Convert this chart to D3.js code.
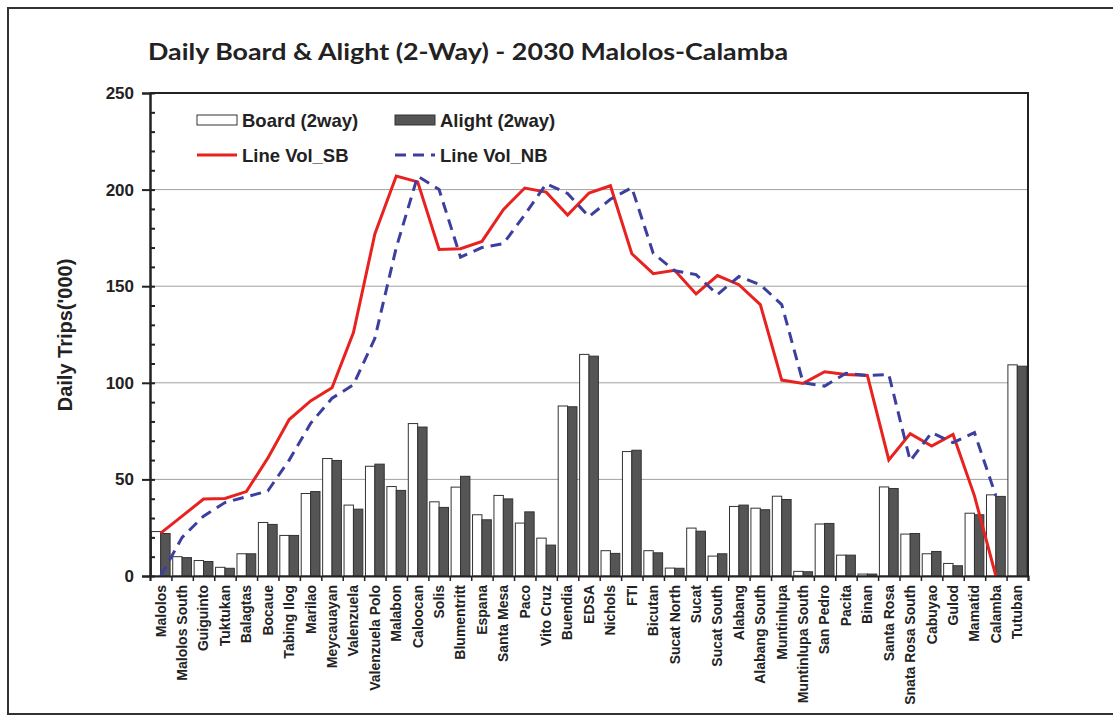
<!DOCTYPE html>
<html>
<head>
<meta charset="utf-8">
<script src="https://cdn.jsdelivr.net/npm/d3@7"></script>
<style>
  body { margin: 0; background: #fff; }
  svg { display: block; font-family: Arial, "Liberation Sans", sans-serif; }
</style>
</head>
<body>
<div id="chart"></div>
<script>
const stations = ["Malolos", "Malolos South", "Guiguinto", "Tuktukan", "Balagtas", "Bocaue", "Tabing Ilog",
    "Marilao", "Meycauayan", "Valenzuela", "Valenzuela Polo", "Malabon", "Caloocan", "Solis", "Blumentritt",
    "Espana", "Santa Mesa", "Paco", "Vito Cruz", "Buendia", "EDSA", "Nichols", "FTI", "Bicutan", "Sucat North",
    "Sucat", "Sucat South", "Alabang", "Alabang South", "Muntinlupa", "Muntinlupa South", "San Pedro", "Pacita",
    "Binan", "Santa Rosa", "Snata Rosa South", "Cabuyao", "Gulod", "Mamatid", "Calamba", "Tutuban"];

const board = [23, 10, 8, 4.5, 11.5, 27.7, 21, 42.7, 60.8, 36.7, 56.8, 46.3, 78.9, 38.4, 46, 31.7, 41.7, 27.4,
    19.6, 88, 114.7, 13.1, 64.4, 13.1, 4.1, 24.8, 10.3, 36, 35.1, 41.3, 2.4, 26.9, 10.8, 1, 46.1, 21.7, 11.5,
    6.5, 32.5, 42, 109.3];
const alight = [22, 9.5, 7.5, 4, 11.5, 26.7, 21, 43.7, 59.8, 34.6, 57.9, 44.3, 77.1, 35.5, 51.6, 29.1, 39.9,
    33.2, 16, 87.6, 113.8, 11.7, 65.1, 12, 4, 23.2, 11.5, 36.7, 34.3, 39.6, 2.2, 27.2, 10.8, 1, 45.3, 22, 12.7,
    5.3, 31.7, 41.2, 108.6];
const volSB = [22.2, 31, 39.8, 40.1, 43.7, 61, 81, 90.6, 97.4, 126, 177, 207, 204, 169, 169.4, 173.2, 189.6,
    200.8, 198.7, 186.8, 198.2, 202, 166.8, 156.5, 158.2, 146, 155.5, 150.8, 140.5, 101.4, 99.7, 105.7, 104.3,
    103.8, 60.1, 73.7, 67.3, 73.3, 41.5, 0, null];
const volNB = [0, 20, 31, 38, 41, 44, 60, 79, 92, 99, 123, 170, 207, 200, 165, 170, 172, 187, 203, 198, 186,
    195, 201, 167, 158, 156, 145.7, 155, 150.8, 140.5, 100, 98.3, 104.9, 103.8, 104.3, 59.6, 74.2, 69, 74.2,
    41.5, null];
const yTicks = [0, 50, 100, 150, 200, 250];

const W = 1113, H = 722;
const margin = {left: 150, right: 85, top: 93, bottom: 146};
const innerW = W - margin.left - margin.right;
const innerH = H - margin.top - margin.bottom;

const svg = d3.select("#chart").append("svg")
    .attr("width", W)
    .attr("height", H);

// outer frame
svg.append("rect")
    .attr("x", 8).attr("y", 8)
    .attr("width", W + 10).attr("height", 706)
    .attr("fill", "none")
    .attr("stroke", "#333")
    .attr("stroke-width", 2);

svg.append("text")
    .attr("x", 148).attr("y", 60)
    .attr("textLength", 640)
    .attr("lengthAdjust", "spacingAndGlyphs")
    .style("font-family", "Lato, 'Open Sans', sans-serif")
    .style("font-weight", "700")
    .style("font-size", "23px")
    .attr("fill", "#222")
    .text("Daily Board & Alight (2-Way) - 2030 Malolos-Calamba");

const g = svg.append("g").attr("transform", `translate(${margin.left},${margin.top})`);

const x = d3.scaleBand().domain(stations).range([0, innerW]);
const xSub = d3.scaleBand().domain(["board", "alight"]).range([0, x.bandwidth()]).paddingOuter(0.14);
const xIdx = d3.scaleLinear().domain([0, stations.length]).range([0, innerW]);
const y = d3.scaleLinear().domain([0, 250]).range([innerH, 0]);

// gridlines
g.append("g")
    .selectAll("line")
    .data(yTicks.slice(1, -1))
    .join("line")
    .attr("x1", 0).attr("x2", innerW)
    .attr("y1", d => y(d)).attr("y2", d => y(d))
    .attr("stroke", "#a0a0a0")
    .attr("stroke-width", 1);

// bars
const rows = stations.map((s, i) => ({name: s, board: board[i], alight: alight[i]}));
const grp = g.append("g").selectAll("g")
    .data(rows)
    .join("g")
    .attr("transform", d => `translate(${x(d.name)},0)`);

grp.append("rect")
    .attr("x", xSub("board"))
    .attr("y", d => y(d.board))
    .attr("width", xSub.bandwidth())
    .attr("height", d => innerH - y(d.board))
    .attr("fill", "#fff")
    .attr("stroke", "#333")
    .attr("stroke-width", 1);

grp.append("rect")
    .attr("x", xSub("alight"))
    .attr("y", d => y(d.alight))
    .attr("width", xSub.bandwidth())
    .attr("height", d => innerH - y(d.alight))
    .attr("fill", "#555")
    .attr("stroke", "#333")
    .attr("stroke-width", 1);

// lines
const line = d3.line()
    .defined(d => d != null)
    .x((d, i) => x(stations[i]) + x.bandwidth() / 2)
    .y(d => y(d));

g.append("path")
    .datum(volSB)
    .attr("d", line)
    .attr("fill", "none")
    .attr("stroke", "#e8221f")
    .attr("stroke-width", 3);

g.append("path")
    .datum(volNB)
    .attr("d", line)
    .attr("fill", "none")
    .attr("stroke", "#3c3f9e")
    .attr("stroke-width", 3)
    .attr("stroke-dasharray", "11,7");

// plot frame (top and right)
g.append("path")
    .attr("d", `M0,0H${innerW}V${innerH}`)
    .attr("fill", "none")
    .attr("stroke", "#222")
    .attr("stroke-width", 2);

// y axis
const yAxis = g.append("g")
    .call(d3.axisLeft(y).tickValues(yTicks).tickSize(8).tickPadding(8));
yAxis.selectAll("text")
    .style("font-size", "17px")
    .style("font-weight", "bold")
    .attr("fill", "#222");
g.append("g")
    .call(d3.axisLeft(y).tickValues(d3.range(0, 251, 10)).tickSizeInner(-5).tickSizeOuter(0).tickFormat(""));
g.selectAll(".domain").attr("stroke", "#222").attr("stroke-width", 2);
g.selectAll(".tick line").attr("stroke", "#222").attr("stroke-width", 2);

// x axis
g.append("g")
    .attr("transform", `translate(0,${innerH})`)
    .call(d3.axisBottom(xIdx).tickValues(d3.range(0, stations.length + 1)).tickSize(5).tickFormat(""))
    .call(a => a.select(".domain").attr("stroke", "#222").attr("stroke-width", 2))
    .call(a => a.selectAll(".tick line").attr("stroke", "#222").attr("stroke-width", 1.5));

const xAxis = g.append("g")
    .attr("transform", `translate(0,${innerH})`)
    .call(d3.axisBottom(x).tickSize(0));
xAxis.select(".domain").remove();
xAxis.selectAll("text")
    .attr("transform", "rotate(-90)")
    .attr("x", -9)
    .attr("y", 0)
    .attr("dy", "0.35em")
    .style("text-anchor", "end")
    .style("font-size", "14px")
    .style("font-weight", "bold")
    .attr("fill", "#222");

// y title
svg.append("text")
    .attr("transform", "translate(72,335) rotate(-90)")
    .attr("text-anchor", "middle")
    .style("font-size", "20px")
    .style("font-weight", "bold")
    .attr("fill", "#222")
    .text("Daily Trips('000)");

// legend
const legend = svg.append("g").style("font-size", "18.5px").style("font-weight", "bold");
const legendItems = [
    {label: "Board (2way)", kind: "board", x: 197, y: 120},
    {label: "Alight (2way)", kind: "alight", x: 395, y: 120},
    {label: "Line Vol_SB", kind: "sb", x: 197, y: 155},
    {label: "Line Vol_NB", kind: "nb", x: 395, y: 155}
];
legendItems.forEach(it => {
    const lg = legend.append("g").attr("transform", `translate(${it.x},${it.y})`);
    if (it.kind === "board" || it.kind === "alight") {
        lg.append("rect")
            .attr("x", 0).attr("y", -5)
            .attr("width", 40).attr("height", 10)
            .attr("fill", it.kind === "board" ? "#fff" : "#555")
            .attr("stroke", "#333");
    } else {
        lg.append("line")
            .attr("x1", 0).attr("x2", 40)
            .attr("stroke", it.kind === "sb" ? "#e8221f" : "#3c3f9e")
            .attr("stroke-width", 3)
            .attr("stroke-dasharray", it.kind === "nb" ? "11,7" : null);
    }
    lg.append("text")
        .attr("x", 45)
        .attr("dy", "0.36em")
        .attr("fill", "#222")
        .text(it.label);
});
</script>
</body>
</html>
